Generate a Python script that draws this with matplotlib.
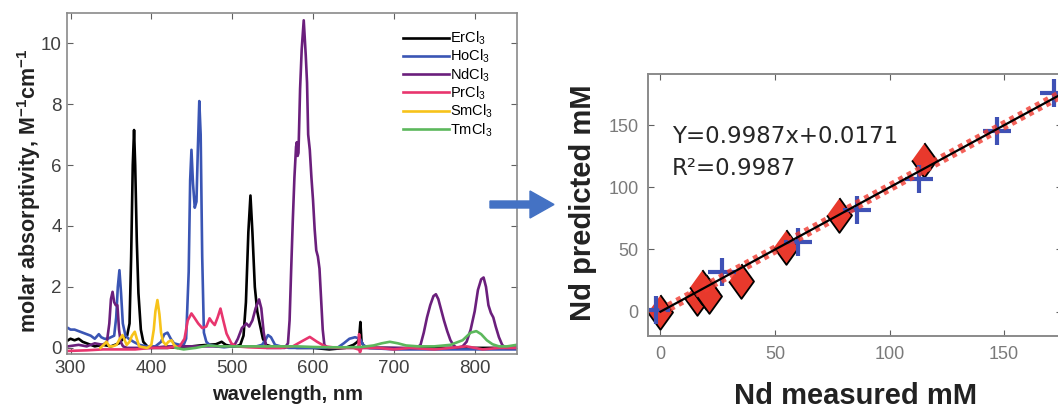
import matplotlib
matplotlib.use("Agg")
import matplotlib.pyplot as plt
from matplotlib.patches import FancyArrow

plt.rcParams["font.family"] = ["Liberation Sans", "DejaVu Sans"]
plt.rcParams["mathtext.fontset"] = "custom"
plt.rcParams["mathtext.rm"] = "Liberation Sans"
plt.rcParams["mathtext.it"] = "Liberation Sans:italic"
plt.rcParams["mathtext.bf"] = "Liberation Sans:bold"

# spectra (wavelength nm, molar absorptivity)
er_wl = [297, 300, 305, 310, 315, 320, 325, 330, 340, 350, 355, 360, 365, 370, 373, 375, 377, 378.6, 380, 382, 384, 387,
         390, 395, 400, 410, 420, 430, 440, 450, 460, 470, 480, 487, 492, 500, 505, 510, 514, 517, 520, 522.6, 525, 528,
         531, 534, 538, 542, 548, 555, 565, 580, 600, 620, 640, 650, 655, 657, 658.6, 660, 663, 670, 690, 720, 760, 800, 852]
er_val = [0.25, 0.3, 0.25, 0.3, 0.2, 0.15, 0.1, 0.05, 0.1, 0.05, 0.1, 0.15, 0.3, 0.4, 0.8, 3.0, 6.0, 7.15, 6.0, 3.5, 1.8, 0.6,
          0.2, 0.05, 0.0, 0.0, 0.0, 0.02, 0.05, 0.05, 0.08, 0.1, 0.12, 0.2, 0.1, 0.05, 0.05, 0.1, 0.4, 1.5, 3.8, 5.0, 3.8, 2.0,
          1.2, 0.8, 0.3, 0.1, 0.05, 0.05, 0.05, 0.0, 0.0, -0.05, 0.0, 0.1, 0.2, 0.3, 0.85, 0.2, 0.05, 0.0, 0.0, -0.02, 0.0, 0.0, 0.0]

ho_wl = [297, 300, 305, 310, 315, 320, 325, 330, 335, 338, 342, 346, 350, 354, 356.5, 358.5, 360.5, 362.5, 364.7, 368, 372,
         378, 385, 395, 405, 412, 416, 420, 424, 428, 435, 440, 443, 446.2, 448, 449.6, 451.5, 453.7, 455.8, 457.5, 459.3,
         461, 462.9, 465, 468, 472, 480, 490, 500, 510, 520, 530, 537, 541, 544.3, 548, 553, 560, 570, 590, 620, 630, 638,
         645, 652, 658, 662, 668, 700, 750, 800, 852]
ho_val = [0.65, 0.6, 0.6, 0.55, 0.5, 0.45, 0.4, 0.3, 0.45, 0.35, 0.3, 0.3, 0.35, 0.4, 1.0, 2.0, 2.55, 1.8, 0.8, 0.4, 0.3,
          0.2, 0.1, 0.05, 0.05, 0.2, 0.45, 0.5, 0.3, 0.15, 0.1, 0.1, 0.3, 2.5, 5.5, 6.5, 5.4, 4.6, 4.8, 6.5, 8.1,
          7.0, 3.0, 0.5, 0.2, 0.1, 0.05, 0.02, 0.05, 0.05, 0.05, 0.05, 0.1, 0.25, 0.42, 0.35, 0.1, 0.05, 0.0, 0.0, 0.0, 0.0, 0.15,
          0.3, 0.35, 0.3, 0.1, 0.0, -0.05, -0.05, -0.05, -0.05]

nd_wl = [297, 310, 320, 330, 340, 345, 348, 350, 352, 354, 356, 358, 360, 362, 365, 370, 380, 400, 420, 440, 460, 480, 495,
         503, 507, 512, 517.6, 521, 525, 529, 533.2, 536, 539, 542.4, 550, 560, 565, 569, 571, 573, 575, 577, 579, 580,
         581, 582, 584, 586, 588.5, 591, 592.6, 594, 596, 598, 600, 602, 604, 606, 608, 610, 612, 614, 618, 630, 660, 700,
         728, 733, 737, 741, 745, 749, 752, 755, 758, 762, 766, 770, 774, 778, 785, 790, 795, 800, 804, 808, 811, 814, 817,
         820, 823, 826, 830, 834, 838, 852]
nd_val = [0.05, 0.1, 0.05, 0.15, 0.1, 0.2, 0.8, 1.6, 1.84, 1.5, 1.4, 1.4, 0.6, 0.2, 0.05, 0.0, 0.0, 0.0, 0.05, 0.05, 0.05, 0.05, 0.05,
          0.1, 0.3, 0.65, 0.8, 0.7, 0.9, 1.3, 1.59, 1.3, 0.5, 0.0, 0.0, 0.0, 0.0, 0.15, 0.9, 2.6, 4.2, 5.6, 6.6, 6.75,
          6.3, 6.4, 8.5, 9.8, 10.75, 9.6, 8.7, 7.0, 6.5, 5.6, 4.85, 3.9, 3.2, 3.0, 2.6, 1.6, 0.6, 0.1, 0.0, 0.0, 0.0, 0.0,
          0.0, 0.1, 0.5, 1.0, 1.4, 1.7, 1.76, 1.6, 1.3, 0.9, 0.55, 0.25, 0.08, 0.0, 0.05, 0.2, 0.6, 1.2, 1.9, 2.25, 2.31, 2.0, 1.4,
          1.15, 1.0, 0.7, 0.35, 0.1, 0.0, 0.0]

pr_wl = [297, 320, 340, 360, 380, 400, 420, 435, 441, 445, 449.6, 453, 458, 463, 468, 472, 475, 478.4, 482, 485.5, 489,
         493, 499, 505, 520, 540, 560, 575, 585, 596, 605, 615, 630, 650, 656, 657, 658, 660, 680, 700, 720, 750, 770, 790,
         800, 810, 830, 852]
pr_val = [-0.1, -0.08, -0.05, -0.05, -0.05, 0.0, 0.0, 0.05, 0.3, 0.9, 1.13, 1.0, 0.8, 0.65, 0.7, 0.97, 0.85, 0.75, 1.0, 1.29, 0.9,
          0.47, 0.15, 0.05, 0.02, 0.0, 0.0, 0.05, 0.2, 0.36, 0.2, 0.05, 0.0, 0.0, -0.05, 0.45, -0.15, 0.0, 0.0, -0.05, 0.0, -0.05,
          0.0, 0.05, 0.0, -0.05, 0.0, 0.0]

sm_wl = [337, 341, 344.5, 348, 352, 357, 361, 364.3, 367, 369.5, 373, 376, 379.5, 382, 385, 390, 395, 400, 403, 405, 407.5,
         410, 412, 414.5, 418, 421, 425, 428, 432]
sm_val = [0.0, 0.1, 0.2, 0.05, 0.05, 0.1, 0.3, 0.42, 0.25, 0.1, 0.2, 0.4, 0.53, 0.3, 0.05, 0.02, 0.0, 0.1, 0.6, 1.2, 1.57,
          1.1, 0.5, 0.2, 0.1, 0.2, 0.25, 0.1, 0.0]

tm_wl = [430, 440, 455, 470, 485, 500, 520, 540, 560, 580, 600, 620, 640, 660, 675, 685, 695, 705, 715, 730, 750, 770, 785,
         795, 802, 808, 815, 822, 830, 840, 852]
tm_val = [0.0, -0.05, 0.0, 0.08, 0.05, 0.05, 0.05, 0.05, 0.05, 0.05, 0.03, 0.02, 0.02, 0.03, 0.08, 0.15, 0.2, 0.15, 0.08,
          0.05, 0.05, 0.1, 0.25, 0.5, 0.55, 0.45, 0.25, 0.12, 0.05, 0.05, 0.1]

spectra = [
    ("ErCl$_3$", er_wl, er_val, "black"),
    ("HoCl$_3$", ho_wl, ho_val, "#3a55b4"),
    ("NdCl$_3$", nd_wl, nd_val, "#6b1f7c"),
    ("PrCl$_3$", pr_wl, pr_val, "#e8356e"),
    ("SmCl$_3$", sm_wl, sm_val, "#f7c31a"),
    ("TmCl$_3$", tm_wl, tm_val, "#5cb85c"),
]

# Nd calibration (measured mM, predicted mM)
dia_x = [0, 16, 18, 20, 21, 35, 55, 78, 115]
dia_y = [0, 11, 20, 16, 13, 25, 52, 78, 122]
plus_x = [-2, 27, 60, 86, 113, 147, 172]
plus_y = [1, 32, 56, 82, 107, 145, 176]
slope, intercept = 0.9987, 0.0171
fit_x = [0, 178]

fig = plt.figure(figsize=(10.58, 4.08), dpi=100)

# ---- left: spectra
ax = fig.add_axes([0.0636, 0.1324, 0.4248, 0.8365])
for name, wl, val, c in spectra:
    ax.plot(wl, val, color=c, lw=1.9, label=name)
ax.set_xlim(296, 852)
ax.set_ylim(-0.2, 11)
ax.set_xticks([300, 400, 500, 600, 700, 800])
ax.set_yticks([0, 2, 4, 6, 8, 10])
ax.tick_params(direction="in", top=True, right=True, length=4, width=0.8,
               labelsize=13.5, labelcolor="#404040", color="#606060", pad=4)
for s in ax.spines.values():
    s.set_color("#8a8a8a")
    s.set_linewidth(1.2)
ax.set_xlabel("wavelength, nm", fontsize=14.5, fontweight="bold", color="#222222")
ax.xaxis.set_label_coords(0.491, -0.092)
ax.set_ylabel(r"molar absorptivity, M$^{\mathbf{-1}}$cm$^{\mathbf{-1}}$", fontsize=15.5,
              fontweight="bold", color="#222222")
ax.yaxis.set_label_coords(-0.053, 0.478)
ax.legend(loc="upper left", bbox_to_anchor=(0.748, 0.95), frameon=False, fontsize=10.5,
          handlelength=3.1, handletextpad=0.1, labelspacing=0.06, borderpad=0, borderaxespad=0)

# ---- right: calibration
ax2 = fig.add_axes([0.6128, 0.1765, 0.391, 0.6422])
ax2.plot(dia_x, dia_y, linestyle="none", marker=[(0, 1), (0.72, 0), (0, -1), (-0.72, 0)],
         markersize=25, markerfacecolor="#e8392c", markeredgecolor="black", markeredgewidth=1.3, zorder=2)
ax2.plot(plus_x, plus_y, linestyle="none", marker="+", markersize=20, markeredgewidth=3,
         color="#3f51b5", zorder=2)
fit_y = [slope * x + intercept for x in fit_x]
ax2.plot(fit_x, fit_y, color="#f03a30", lw=7, linestyle=(0, (0.5, 0.5)), alpha=0.8, zorder=3)
ax2.plot(fit_x, fit_y, color="black", lw=1.6, zorder=4)
ax2.set_xlim(-5.3, 175.3)
ax2.set_ylim(-19.5, 191)
ax2.set_xticks([0, 50, 100, 150])
ax2.set_yticks([0, 50, 100, 150])
ax2.tick_params(direction="in", top=True, right=True, length=4, width=0.8,
                labelsize=13, labelcolor="#7a7a7a", color="#606060", pad=7)
for s in ax2.spines.values():
    s.set_color("#8a8a8a")
    s.set_linewidth(1.4)
ax2.set_xlabel("Nd measured mM", fontsize=21, fontweight="bold", color="#222222")
ax2.xaxis.set_label_coords(0.501, -0.176)
ax2.set_ylabel("Nd predicted mM", fontsize=21, fontweight="bold", color="#222222")
ax2.yaxis.set_label_coords(-0.125, 0.508)
ax2.text(4.9, 140.7, "Y=0.9987x+0.0171", fontsize=16.5, family="DejaVu Sans", color="#262626", va="center")
ax2.text(4.9, 115.3, "R²=0.9987", fontsize=16.5, family="DejaVu Sans", color="#262626", va="center")

# blue arrow between panels
fig.patches.append(FancyArrow(4.90, 2.035, 0.64, 0, width=0.07, head_width=0.27, head_length=0.24,
                              length_includes_head=True, color="#4472c4", transform=fig.dpi_scale_trans))

fig.savefig("out.png", dpi=100)
